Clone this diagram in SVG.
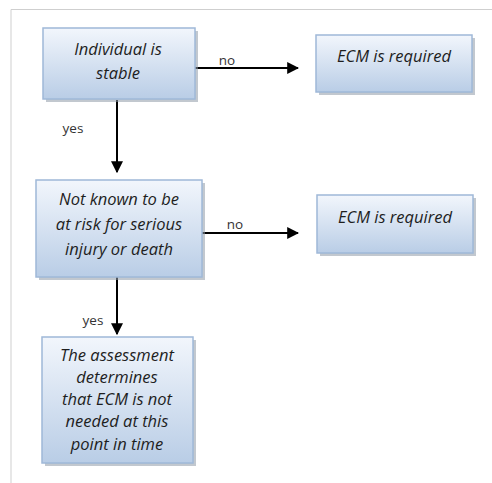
<svg xmlns="http://www.w3.org/2000/svg" width="492" height="483" viewBox="0 0 492 483">
  <defs>
    <linearGradient id="boxFill" x1="0" y1="0" x2="0" y2="1">
      <stop offset="0" stop-color="#f2f6fc"/>
      <stop offset="1" stop-color="#b9cde6"/>
    </linearGradient>
    <marker id="arrow" viewBox="0 0 10 10" refX="9" refY="5" markerWidth="6" markerHeight="6" orient="auto" markerUnits="strokeWidth">
      <path d="M0,0 L10,5 L0,10 z" fill="#000"/>
    </marker>
    <style>
      .box { fill: url(#boxFill); stroke: #9fb8d8; stroke-width: 1.5; }
      .shadow { fill: #8f9aa8; opacity: 0.55; }
      .txt { font-family: "Open Sans", "Liberation Sans", sans-serif; font-style: italic; font-size: 16.5px; fill: #1e1e1e; text-anchor: middle; }
      .lbl { font-family: "Open Sans", "Liberation Sans", sans-serif; font-size: 13.5px; fill: #333; text-anchor: middle; }
      .conn { stroke: #000; stroke-width: 2; fill: none; marker-end: url(#arrow); }
      .frame { stroke: #cfcfcf; stroke-width: 1; fill: none; }
    </style>
  </defs>

  <rect width="492" height="483" fill="#fff"/>
  <!-- page frame -->
  <path class="frame" d="M11,483 L11,9.5 L492,9.5"/>

  <!-- connectors -->
  <g id="connectors">
    <line class="conn" x1="195" y1="68" x2="298" y2="68"/>
    <text class="lbl" x="227" y="65">no</text>
    <line class="conn" x1="117" y1="100" x2="117" y2="172"/>
    <text class="lbl" x="73" y="133">yes</text>
    <line class="conn" x1="202" y1="233" x2="298" y2="233"/>
    <text class="lbl" x="235" y="229">no</text>
    <line class="conn" x1="117" y1="277" x2="117" y2="334"/>
    <text class="lbl" x="93" y="325">yes</text>
  </g>

  <!-- Individual is stable -->
  <g id="node-stable">
    <rect class="shadow" x="46" y="31" width="152" height="71"/>
    <rect class="box" x="43" y="28" width="152" height="71"/>
    <text class="txt" x="118" y="55">Individual is</text>
    <text class="txt" x="118" y="79">stable</text>
  </g>

  <!-- ECM is required (first) -->
  <g id="node-ecm1">
    <rect class="shadow" x="319" y="38" width="156" height="57"/>
    <rect class="box" x="316" y="35" width="156" height="57"/>
    <text class="txt" x="394" y="62">ECM is required</text>
  </g>

  <!-- Not known to be at risk -->
  <g id="node-risk">
    <rect class="shadow" x="39" y="183" width="166" height="97"/>
    <rect class="box" x="36" y="180" width="166" height="97"/>
    <text class="txt" x="119" y="205">Not known to be</text>
    <text class="txt" x="119" y="230">at risk for serious</text>
    <text class="txt" x="119" y="255">injury or death</text>
  </g>

  <!-- ECM is required (second) -->
  <g id="node-ecm2">
    <rect class="shadow" x="320" y="198" width="156" height="58"/>
    <rect class="box" x="317" y="195" width="156" height="58"/>
    <text class="txt" x="395" y="223">ECM is required</text>
  </g>

  <!-- Assessment outcome -->
  <g id="node-assessment">
    <rect class="shadow" x="45" y="340" width="151" height="126"/>
    <rect class="box" x="42" y="337" width="151" height="126"/>
    <text class="txt" x="117" y="361">The assessment</text>
    <text class="txt" x="117" y="383">determines</text>
    <text class="txt" x="117" y="405">that ECM is not</text>
    <text class="txt" x="117" y="427">needed at this</text>
    <text class="txt" x="117" y="450">point in time</text>
  </g>
</svg>
